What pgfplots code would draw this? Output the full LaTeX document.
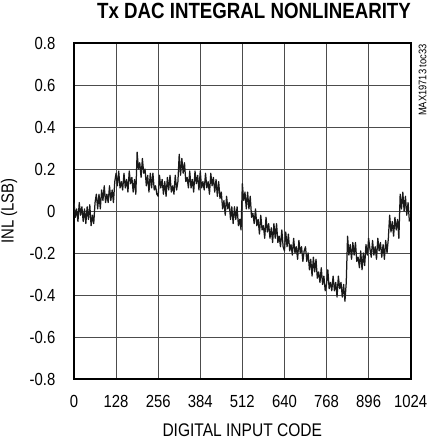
\documentclass[border=0pt]{standalone}
\usepackage{fontspec}
\setmainfont{Liberation Sans}[FakeStretch=0.85]
\usepackage{pgfplots}
\pgfplotsset{compat=1.18}
\usepackage{pgfplotstable}
\pgfplotstableread{
x y
0 0.04
4 -0.03
8 0.01
12 -0.05
16 0.04
20 -0.02
24 0.02
28 -0.05
32 0.01
36 -0.06
40 0.02
44 -0.04
48 0.03
52 -0.07
56 -0.02
60 -0.06
64 0.04
68 0.08
72 0.01
76 0.08
80 0.01
84 0.10
88 0.05
92 0.12
96 0.04
100 0.08
104 0.04
108 0.12
112 0.05
116 0.10
120 0.04
124 0.14
128 0.18
132 0.12
136 0.19
140 0.11
144 0.14
148 0.10
152 0.18
156 0.11
160 0.15
164 0.09
168 0.19
172 0.13
176 0.16
180 0.09
184 0.15
188 0.08
192 0.28
196 0.20
200 0.23
204 0.16
208 0.25
212 0.18
216 0.20
220 0.12
224 0.17
228 0.09
232 0.18
236 0.11
240 0.18
244 0.10
248 0.12
252 0.08
256 0.07
260 0.17
264 0.11
268 0.15
272 0.08
276 0.14
280 0.07
284 0.16
288 0.10
292 0.17
296 0.09
300 0.12
304 0.08
308 0.17
312 0.10
316 0.14
320 0.27
324 0.17
328 0.25
332 0.18
336 0.23
340 0.14
344 0.16
348 0.11
352 0.19
356 0.11
360 0.15
364 0.09
368 0.19
372 0.13
376 0.17
380 0.10
384 0.19
388 0.11
392 0.14
396 0.10
400 0.18
404 0.11
408 0.14
412 0.08
416 0.18
420 0.12
424 0.16
428 0.09
432 0.15
436 0.07
440 0.14
444 0.06
448 0.09
452 0.01
456 0.05
460 -0.02
464 0.07
468 0.01
472 0.04
476 -0.04
480 0.02
484 -0.06
488 0.02
492 -0.04
496 0.02
500 -0.07
504 -0.04
508 -0.09
512 0.13
516 0.05
520 0.09
524 0.01
528 0.09
532 0.01
536 0.07
540 -0.03
544 -0.01
548 -0.06
552 0.01
556 -0.07
560 -0.04
564 -0.11
568 -0.02
572 -0.09
576 -0.07
580 -0.13
584 -0.03
588 -0.10
592 -0.06
596 -0.13
600 -0.08
604 -0.15
608 -0.06
612 -0.13
616 -0.06
620 -0.15
624 -0.12
628 -0.17
632 -0.09
636 -0.17
640 -0.19
644 -0.10
648 -0.17
652 -0.11
656 -0.19
660 -0.16
664 -0.21
668 -0.13
672 -0.20
676 -0.17
680 -0.23
684 -0.14
688 -0.20
692 -0.17
696 -0.24
700 -0.19
704 -0.17
708 -0.24
712 -0.20
716 -0.28
720 -0.23
724 -0.31
728 -0.22
732 -0.29
736 -0.23
740 -0.32
744 -0.29
748 -0.34
752 -0.27
756 -0.35
760 -0.31
764 -0.38
768 -0.35
772 -0.28
776 -0.37
780 -0.34
784 -0.38
788 -0.31
792 -0.38
796 -0.34
800 -0.41
804 -0.31
808 -0.37
812 -0.34
816 -0.41
820 -0.35
824 -0.43
828 -0.34
832 -0.12
836 -0.21
840 -0.16
844 -0.23
848 -0.15
852 -0.21
856 -0.15
860 -0.24
864 -0.22
868 -0.27
872 -0.19
876 -0.28
880 -0.20
884 -0.26
888 -0.16
892 -0.21
896 -0.13
900 -0.18
904 -0.22
908 -0.14
912 -0.21
916 -0.17
920 -0.23
924 -0.13
928 -0.19
932 -0.15
936 -0.22
940 -0.16
944 -0.23
948 -0.14
952 -0.20
956 -0.13
960 -0.02
964 -0.10
968 -0.05
972 -0.12
976 -0.03
980 -0.09
984 -0.04
988 -0.13
992 0.08
996 0.01
1000 0.09
1004 0.00
1008 0.07
1012 -0.02
1016 0.04
1020 -0.05
}\inl
\begin{document}
\begin{tikzpicture}
\useasboundingbox (-74pt,-64pt) rectangle (359pt,379pt);
\begin{axis}[
  scale only axis,
  width=336.7pt, height=336pt,
  xmin=0, xmax=1024, ymin=-0.8, ymax=0.8,
  xtick={0,128,256,384,512,640,768,896,1024},
  xticklabels={0,128,256,384,512,640,768,896,1024},
  ytick={-0.8,-0.6,-0.4,-0.2,0,0.2,0.4,0.6,0.8},
  yticklabels={-0.8,-0.6,-0.4,-0.2,0,0.2,0.4,0.6,0.8},
  tick style={draw=none},
  major tick length=0pt,
  grid=major,
  major grid style={line width=0.9pt, color=black!70},
  axis line style={line width=1.9pt, black},
  ticklabel style={font=\fontsize{17.5}{19}\selectfont, inner sep=0pt},
  xticklabel style={anchor=base, yshift=-28pt},
  yticklabel style={anchor=east, xshift=-18.5pt},
]
\addplot[black!90, line width=1.25pt, line join=round] table[x=x, y=y] {\inl};
\end{axis}
\node[anchor=base] at (180pt,360pt) {\fontsize{22}{24}\selectfont\bfseries Tx DAC INTEGRAL NONLINEARITY};
\node[anchor=base] at (168.3pt,-57pt) {\fontsize{18.3}{20}\selectfont DIGITAL INPUT CODE};
\node[rotate=90, anchor=center] at (-65pt,168pt) {\fontsize{17.5}{19}\selectfont INL (LSB)};
\node[rotate=90, anchor=center] at (348.5pt,299pt) {\fontsize{11}{12}\selectfont MAX19713 toc33};
\end{tikzpicture}
\end{document}
